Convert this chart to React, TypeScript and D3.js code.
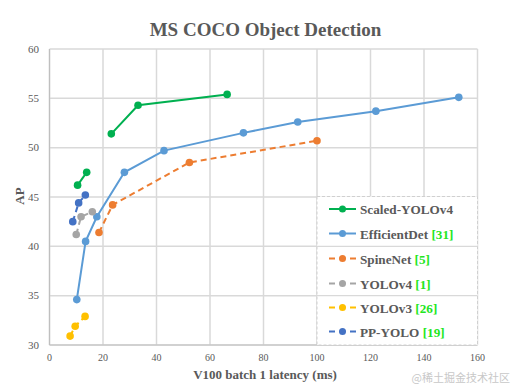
import React from "react";
import * as d3 from "d3";

const xTicks = [0, 20, 40, 60, 80, 100, 120, 140, 160];
const yTicks = [30, 35, 40, 45, 50, 55, 60];

const scaledYoloX = [23.1, 33.1, 66.4];
const scaledYoloY = [51.4, 54.3, 55.4];
const scaledYoloSmallX = [10.5, 13.9];
const scaledYoloSmallY = [46.2, 47.5];
const effDetX = [10.2, 13.5, 17.7, 28.0, 42.8, 72.5, 92.8, 122.0, 153.0];
const effDetY = [34.6, 40.5, 43.0, 47.5, 49.7, 51.5, 52.6, 53.7, 55.1];
const spineX = [18.5, 23.6, 52.3, 100.0];
const spineY = [41.4, 44.2, 48.5, 50.7];
const yolov4X = [10.0, 11.8, 16.0];
const yolov4Y = [41.2, 43.0, 43.5];
const yolov3X = [7.7, 9.6, 13.3];
const yolov3Y = [30.9, 31.9, 32.9];
const ppyoloX = [8.7, 10.9, 13.4];
const ppyoloY = [42.5, 44.4, 45.2];

const seriesNames = ["Scaled-YOLOv4", "EfficientDet", "SpineNet", "YOLOv4", "YOLOv3", "PP-YOLO"];
const seriesRefs = ["", "[31]", "[5]", "[1]", "[26]", "[19]"];
const seriesColors = ["#00b050", "#5b9bd5", "#ed7d31", "#a5a5a5", "#ffc000", "#4472c4"];
const seriesDashed = [false, false, true, true, true, true];

const W = 514, H = 389;
const x0 = 49.5, x1 = 477.5, yTop = 49, yBot = 345;

export default function App() {
  const x = d3.scaleLinear().domain([0, 160]).range([x0, x1]);
  const y = d3.scaleLinear().domain([30, 60]).range([yBot, yTop]);
  const line = d3.line<[number, number]>().x(d => x(d[0])).y(d => y(d[1]));
  const zip = (xs: number[], ys: number[]) => xs.map((v, i) => [v, ys[i]] as [number, number]);

  const lines = [
    { pts: zip(scaledYoloX, scaledYoloY), c: 0 },
    { pts: zip(scaledYoloSmallX, scaledYoloSmallY), c: 0 },
    { pts: zip(effDetX, effDetY), c: 1 },
    { pts: zip(spineX, spineY), c: 2 },
    { pts: zip(yolov4X, yolov4Y), c: 3 },
    { pts: zip(yolov3X, yolov3Y), c: 4 },
    { pts: zip(ppyoloX, ppyoloY), c: 5 },
  ];

  const grid = "#d9d9d9";
  const txt = "#595959";
  const serif = "'Liberation Serif', 'Times New Roman', serif";
  const legX = 317, legY = 196.5, legW = 160.5, legH = 148.5;
  const legRows = [209, 233.5, 258.5, 283.5, 307.5, 331.5];

  return (
    <svg width={W} height={H} style={{ position: "absolute", left: 0, top: 0, background: "#fff" }} fontFamily={serif}>
      <rect width={W} height={H} fill="#fff" />
      <text x={265.5} y={36} textAnchor="middle" fontSize={19} fontWeight="bold" fill={txt}>MS COCO Object Detection</text>
      {xTicks.map(t => (
        <line key={"gx" + t} x1={x(t)} x2={x(t)} y1={yTop} y2={yBot} stroke={grid} strokeWidth={1.5} />
      ))}
      {yTicks.map(t => (
        <line key={"gy" + t} x1={x0} x2={x1} y1={y(t)} y2={y(t)} stroke={grid} strokeWidth={1.5} />
      ))}
      <line x1={x0} x2={x0} y1={yTop} y2={yBot} stroke="#bfbfbf" strokeWidth={1.2} />
      <line x1={x0} x2={x1} y1={yBot} y2={yBot} stroke="#bfbfbf" strokeWidth={1.2} />
      {yTicks.map(t => (
        <text key={"ty" + t} x={39} y={y(t) + 3.5} textAnchor="end" fontSize={11} fill={txt}>{t}</text>
      ))}
      {xTicks.map(t => (
        <text key={"tx" + t} x={x(t)} y={361} textAnchor="middle" fontSize={10} fill={txt}>{t}</text>
      ))}
      <text x={265} y={379} textAnchor="middle" fontSize={13} fontWeight="bold" fill={txt}>V100 batch 1 latency (ms)</text>
      <text transform={`translate(24,196) rotate(-90)`} textAnchor="middle" fontSize={13} fontWeight="bold" fill={txt}>AP</text>
      {lines.map((l, i) => (
        <g key={"s" + i}>
          <path d={line(l.pts) || ""} fill="none" stroke={seriesColors[l.c]} strokeWidth={2}
            strokeDasharray={seriesDashed[l.c] ? "6,4" : undefined} />
          {l.pts.map((p, j) => (
            <circle key={j} cx={x(p[0])} cy={y(p[1])} r={3.8} fill={seriesColors[l.c]} />
          ))}
        </g>
      ))}
      <rect x={legX} y={legY} width={legW} height={legH} fill="#fff" stroke="#d0d0d0" strokeDasharray="3,2" strokeWidth={1} />
      <line x1={legX} x2={legX + legW} y1={y(40)} y2={y(40)} stroke={grid} strokeWidth={1.2} />
      <line x1={legX} x2={legX + legW} y1={y(35)} y2={y(35)} stroke={grid} strokeWidth={1.2} />
      {seriesNames.map((n, i) => (
        <g key={"lg" + i}>
          <line x1={329} x2={356} y1={legRows[i]} y2={legRows[i]} stroke={seriesColors[i]} strokeWidth={2}
            strokeDasharray={seriesDashed[i] ? "6,4.5" : undefined} />
          <circle cx={342.5} cy={legRows[i]} r={3.5} fill={seriesColors[i]} />
          <text x={360} y={legRows[i] + 5} fontSize={13.2} fontWeight="bold" fill={txt}>
            {n}
            {seriesRefs[i] ? <tspan fill="#22e622">{" " + seriesRefs[i]}</tspan> : null}
          </text>
        </g>
      ))}
      <text x={510} y={382} textAnchor="end" fontSize={11} fill="#c8c8c8" fontFamily="'Noto Sans CJK SC', sans-serif">@稀土掘金技术社区</text>
    </svg>
  );
}
